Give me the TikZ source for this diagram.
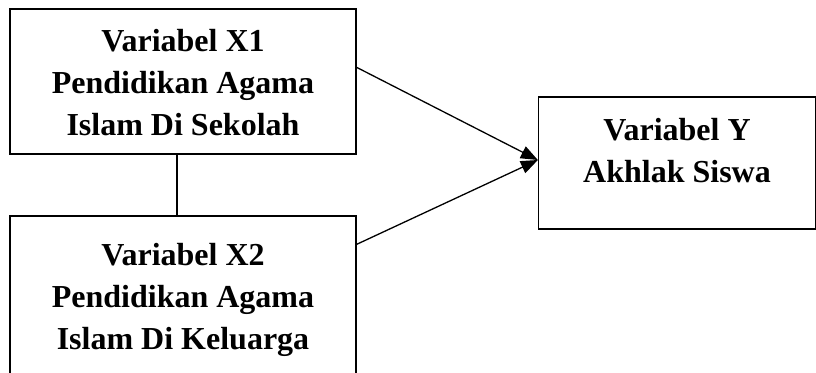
\documentclass[tikz,border=0pt]{standalone}
\usepackage{fontspec}
\setmainfont{Liberation Serif}
\usetikzlibrary{arrows.meta,calc}
\begin{document}
\begin{tikzpicture}[x=1pt,y=-1pt,
  box/.style={draw,line width=1.3pt,inner sep=0pt,rectangle},
  lbl/.style={inner sep=0pt,align=center,anchor=north,
    font=\fontsize{32}{42}\selectfont\bfseries},
  conn/.style={line width=1.3pt},
  arr/.style={line width=1.3pt,-{Triangle[length=17pt,width=13pt]}}]
\clip (0,0) rectangle (816,372);
\fill[white] (0,0) rectangle (816,372);
\node[box,minimum width=346pt,minimum height=145pt] (x1) at (183,81.5) {};
\node[box,minimum width=346pt,minimum height=184pt] (x2) at (183,308) {};
\node[box,minimum width=277pt,minimum height=132pt] (y) at (677,163) {};
\node[lbl] (t1) at (183,29) {Variabel X1\\Pendidikan Agama\\Islam Di Sekolah};
\node[lbl] (t2) at (183,243) {Variabel X2\\Pendidikan Agama\\Islam Di Keluarga};
\node[lbl] (t3) at (677,118) {Variabel Y\\Akhlak Siswa};
\coordinate (a1) at ($(x1.north east)+(0,59)$);
\coordinate (a2) at ($(x2.north east)+(0,29)$);
\coordinate (tip) at ($(y.west)+(0,-3)$);
\draw[arr] (a1) -- (tip);
\draw[arr] (a2) -- (tip);
\draw[conn] ($(x1.south)+(-6,0)$) -- ($(x2.north)+(-6,0)$);
\end{tikzpicture}
\end{document}
